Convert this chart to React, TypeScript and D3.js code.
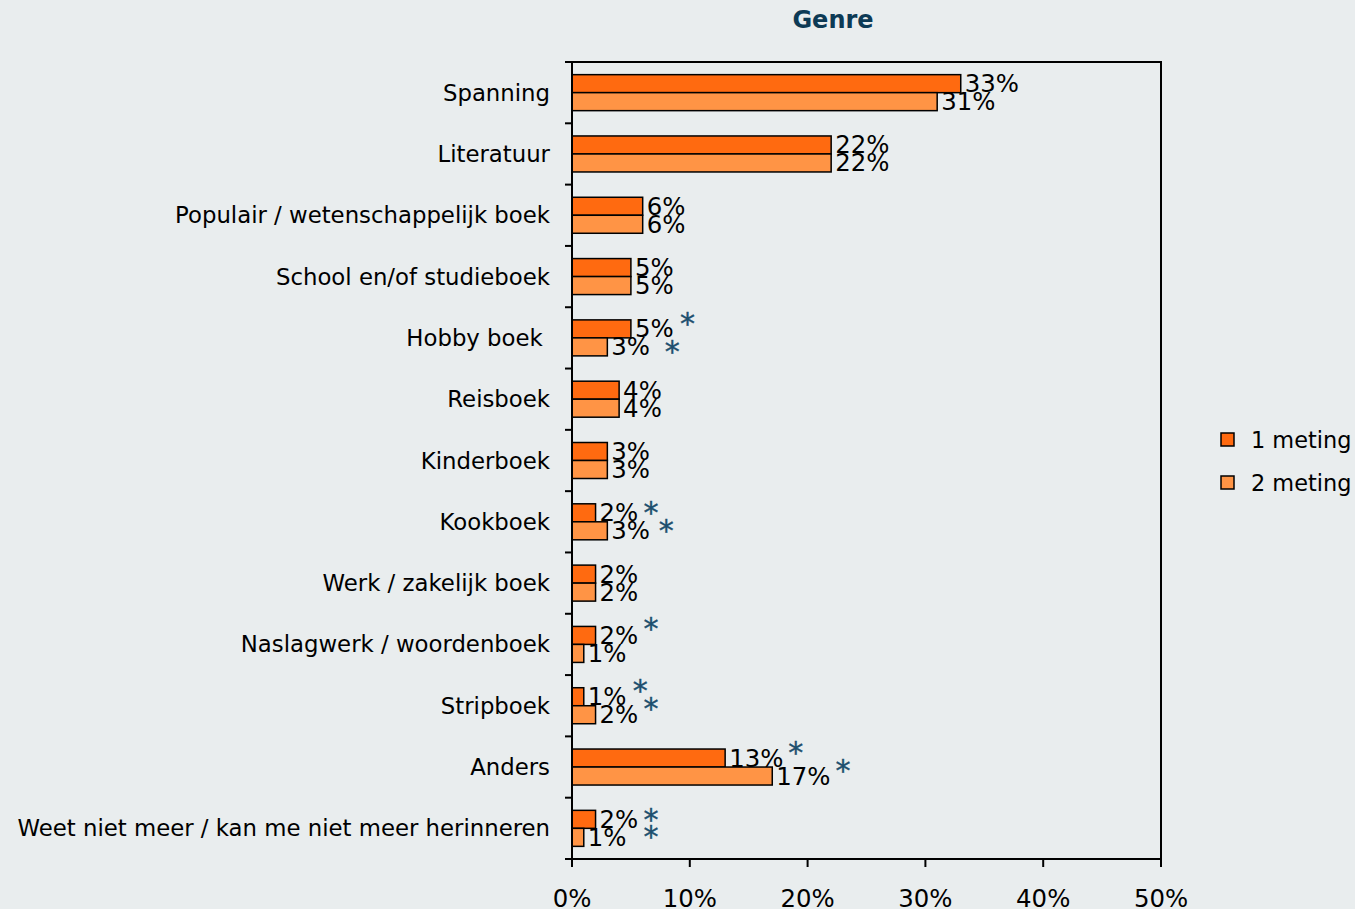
import React from "react";
import * as d3 from "d3";

const categories = [
  "Spanning",
  "Literatuur",
  "Populair / wetenschappelijk boek",
  "School en/of studieboek",
  "Hobby boek ",
  "Reisboek",
  "Kinderboek",
  "Kookboek",
  "Werk / zakelijk boek",
  "Naslagwerk / woordenboek",
  "Stripboek",
  "Anders",
  "Weet niet meer / kan me niet meer herinneren",
];
const meting1 = [33, 22, 6, 5, 5, 4, 3, 2, 2, 2, 1, 13, 2];
const meting2 = [31, 22, 6, 5, 3, 4, 3, 3, 2, 1, 2, 17, 1];
const seriesNames = ["1 meting", "2 meting"];
const xTicks = [0, 10, 20, 30, 40, 50];
// significance markers: [category index, series index, x position (in %), vertical shift]
const markers: [number, number, number, number][] = [
  [4, 0, 9.8, -9],
  [4, 1, 8.5, 1],
  [7, 0, 6.7, -4],
  [7, 1, 8.0, -4],
  [9, 0, 6.7, -10],
  [10, 0, 5.8, -10],
  [10, 1, 6.7, -10],
  [11, 0, 19.0, -9],
  [11, 1, 23.0, -9],
  [12, 0, 6.7, -3],
  [12, 1, 6.7, -4],
];

const W = 1355;
const H = 909;
const margin = { left: 572, right: 1161, top: 62, bottom: 859 };
const colors = ["#ff6a10", "#ff9445"];
const FONT = "'DejaVu Sans', Verdana, sans-serif";

export default function App() {
  const x = d3.scaleLinear().domain([0, 50]).range([margin.left, margin.right]);
  const y = d3
    .scaleBand<number>()
    .domain(d3.range(categories.length))
    .range([margin.top, margin.bottom])
    .paddingInner(0)
    .paddingOuter(0);
  const bw = y.bandwidth();
  const barH = 18;
  const series = [meting1, meting2];

  return (
    <svg
      width={W}
      height={H}
      style={{ position: "absolute", left: 0, top: 0, background: "#e9edee" }}
      fontFamily={FONT}
    >
      <rect x={0} y={0} width={W} height={H} fill="#e9edee" />
      <text
        x={833}
        y={20}
        textAnchor="middle"
        dominantBaseline="central"
        fontWeight="bold"
        fontSize={24}
        fill="#0d3a55"
      >
        Genre
      </text>

      {/* bars */}
      {categories.map((c, i) => {
        const y0 = (y(i) as number) + bw / 2 - barH;
        return (
          <g key={c}>
            {series.map((s, k) => (
              <g key={k}>
                <rect
                  x={x(0)}
                  y={y0 + k * barH}
                  width={x(s[i]) - x(0)}
                  height={barH}
                  fill={colors[k]}
                  stroke="#000"
                  strokeWidth={1.5}
                />
                <text
                  x={x(s[i]) + 4}
                  y={y0 + k * barH + barH / 2}
                  dominantBaseline="central"
                  fontSize={24.4}
                  fill="#000"
                >
                  {s[i]}%
                </text>
              </g>
            ))}
            <text
              x={550}
              y={(y(i) as number) + bw / 2}
              textAnchor="end"
              dominantBaseline="central"
              fontSize={22.8}
              fill="#000"
              style={{ whiteSpace: "pre" }}
            >
              {c}
            </text>
          </g>
        );
      })}

      {markers.map(([ci, si, xv, dy], j) => {
        const yc = (y(ci) as number) + bw / 2 - barH + si * barH + barH / 2 + dy;
        return (
          <text
            key={j}
            x={x(xv)}
            y={yc + 14}
            textAnchor="middle"
            fontSize={30}
            fill="#1d4f6e"
            stroke="#1d4f6e"
            strokeWidth={0.4}
          >
            *
          </text>
        );
      })}

      {/* frame */}
      <rect
        x={margin.left}
        y={margin.top}
        width={margin.right - margin.left}
        height={margin.bottom - margin.top}
        fill="none"
        stroke="#000"
        strokeWidth={2}
      />
      {/* left ticks */}
      {d3.range(categories.length + 1).map((i) => {
        const yy = margin.top + i * bw;
        return <line key={i} x1={margin.left - 7} x2={margin.left} y1={yy} y2={yy} stroke="#000" strokeWidth={2} />;
      })}
      {/* bottom ticks */}
      {xTicks.map((t) => (
        <g key={t}>
          <line x1={x(t)} x2={x(t)} y1={margin.bottom} y2={margin.bottom + 8} stroke="#000" strokeWidth={2} />
          <text x={x(t)} y={898} textAnchor="middle" dominantBaseline="central" fontSize={24.4} fill="#000">
            {t}%
          </text>
        </g>
      ))}

      {/* legend */}
      {seriesNames.map((n, k) => (
        <g key={n}>
          <rect x={1221} y={433 + k * 43} width={13} height={13} fill={colors[k]} stroke="#000" strokeWidth={1.5} />
          <text x={1251} y={440 + k * 43} dominantBaseline="central" fontSize={22.4} fill="#000">
            {n}
          </text>
        </g>
      ))}
    </svg>
  );
}
